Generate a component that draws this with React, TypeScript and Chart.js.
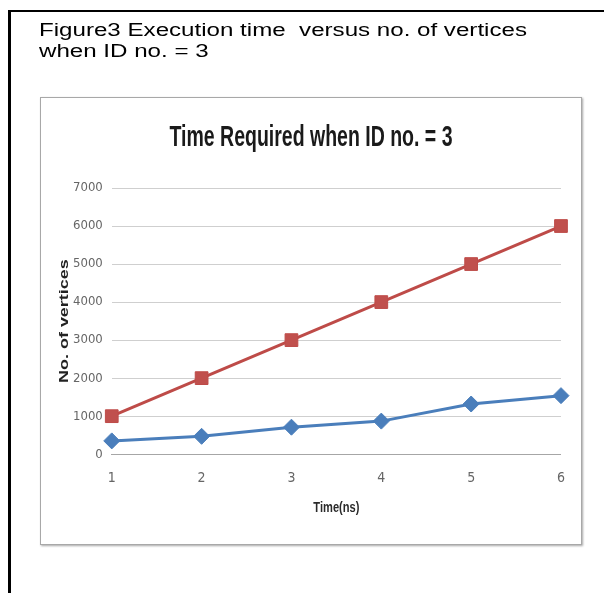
import React, { useEffect, useRef } from "react";
import { Chart, registerables } from "chart.js";

Chart.register(...registerables);

const captionLines = ["Figure3 Execution time  versus no. of vertices", "when ID no. = 3"];
const chartTitle = "Time Required when ID no. = 3";
const xAxisTitle = "Time(ns)";
const yAxisTitle = "No. of vertices";
const xLabels = ["1", "2", "3", "4", "5", "6"];
const blueSeries = [350, 470, 710, 870, 1320, 1540];
const redSeries = [1000, 2000, 3000, 4000, 5000, 6000];
const yMin = 0;
const yMax = 7000;
const yStep = 1000;

const NARROW = "'Liberation Sans Narrow', 'DejaVu Sans Condensed', sans-serif";

const stretchedTextPlugin = {
  id: "stretchedText",
  afterDraw(chart: any) {
    const { ctx, chartArea, width } = chart;
    // chart title
    ctx.save();
    ctx.textAlign = "center";
    ctx.textBaseline = "middle";
    ctx.fillStyle = "#1a1a1a";
    ctx.font = "bold 30px 'Liberation Sans', Arial, sans-serif";
    ctx.translate(width / 2, 40);
    ctx.scale(0.65, 1);
    ctx.fillText(chartTitle, 0, 0);
    ctx.restore();
    // x axis title
    ctx.save();
    ctx.textAlign = "center";
    ctx.textBaseline = "middle";
    ctx.fillStyle = "#2a2a2a";
    ctx.font = "bold 15px 'Liberation Sans', Arial, sans-serif";
    ctx.translate((chartArea.left + chartArea.right) / 2, chartArea.bottom + 54);
    ctx.scale(0.74, 1);
    ctx.fillText(xAxisTitle, 0, 0);
    ctx.restore();
    // y axis title
    ctx.save();
    ctx.textAlign = "center";
    ctx.textBaseline = "middle";
    ctx.fillStyle = "#222222";
    ctx.font = "bold 13px 'Liberation Sans', Arial, sans-serif";
    ctx.translate(chartArea.left - 47, (chartArea.top + chartArea.bottom) / 2);
    ctx.rotate(-Math.PI / 2);
    ctx.scale(1.38, 1);
    ctx.fillText(yAxisTitle, 0, 0);
    ctx.restore();
  },
};

export default function App() {
  const canvasRef = useRef<HTMLCanvasElement | null>(null);

  useEffect(() => {
    if (!canvasRef.current) return;
    const chart = new Chart(canvasRef.current, {
      type: "line",
      data: {
        labels: xLabels,
        datasets: [
          {
            label: "Series1",
            data: blueSeries,
            borderColor: "#4a7ebb",
            backgroundColor: "#4a7ebb",
            borderWidth: 3,
            pointStyle: "rectRot",
            pointRadius: 8,
            pointBorderWidth: 1,
            tension: 0,
            clip: false,
          },
          {
            label: "Series2",
            data: redSeries,
            borderColor: "#be4b48",
            backgroundColor: "#c0504d",
            borderWidth: 3,
            pointStyle: "rect",
            pointRadius: 9,
            pointBorderWidth: 1,
            tension: 0,
            clip: false,
          },
        ],
      },
      options: {
        animation: false,
        responsive: true,
        maintainAspectRatio: false,
        layout: { autoPadding: false, padding: { left: 23, right: 12, top: 90, bottom: 41 } },
        plugins: {
          legend: { display: false },
          tooltip: { enabled: false },
          title: { display: false },
        },
        scales: {
          x: {
            offset: false,
            grid: { display: false, drawTicks: false },
            border: { display: true, color: "#a6a6a6", width: 1 },
            ticks: {
              color: "#666666",
              font: { family: NARROW, size: 14 },
              padding: 16,
            },
            title: { display: false },
          },
          y: {
            min: yMin,
            max: yMax,
            grid: { color: "#cfcfcf", lineWidth: 1, drawTicks: false },
            border: { display: false },
            ticks: {
              stepSize: yStep,
              color: "#666666",
              font: { family: NARROW, size: 13 },
              padding: 9,
              callback: (v: any) => String(v),
            },
            title: { display: false },
          },
        },
      },
      plugins: [stretchedTextPlugin],
    });
    return () => chart.destroy();
  }, []);

  return (
    <div>
      <div
        style={{
          position: "fixed",
          left: 8,
          top: 10,
          right: 0,
          bottom: 0,
          borderLeft: "3px solid #000",
          borderTop: "2px solid #000",
          background: "#fff",
        }}
      />
      <div
        style={{
          position: "absolute",
          left: 39,
          top: 20,
          fontFamily: "'Liberation Sans', Arial, sans-serif",
          fontSize: 18,
          lineHeight: "21px",
          color: "#000",
          whiteSpace: "pre",
          transform: "scaleX(1.34)",
          transformOrigin: "left top",
        }}
      >
        {captionLines.map((l, i) => (
          <div key={i}>{l}</div>
        ))}
      </div>
      <div
        style={{
          position: "absolute",
          left: 40,
          top: 97,
          width: 540,
          height: 446,
          border: "1px solid #a8a8a8",
          boxShadow: "1px 1px 2px rgba(0,0,0,0.35)",
          background: "#fff",
        }}
      >
        <div style={{ position: "relative", width: 540, height: 446 }}>
          <canvas ref={canvasRef} />
        </div>
      </div>
    </div>
  );
}
